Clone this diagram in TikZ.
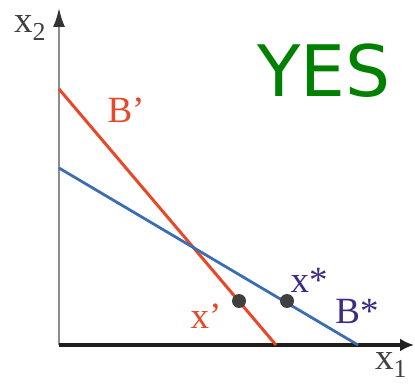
\documentclass[tikz,border=0pt]{standalone}
\usepackage{fontspec}
\setmainfont{Liberation Serif}
\newfontfamily\yesfont{DejaVu Sans}
\usetikzlibrary{arrows.meta}
\definecolor{budgred}{RGB}{232,72,40}
\definecolor{budgblue}{RGB}{62,108,178}
\definecolor{labpurple}{RGB}{62,42,128}
\definecolor{yesgreen}{RGB}{0,128,0}

\begin{document}
\begin{tikzpicture}[x=1pt, y=1pt,
  lab/.style={font=\fontsize{37}{37}\selectfont, inner sep=0pt},
]
  \useasboundingbox (0,0) rectangle (415,383);
  \coordinate (O) at (59,38);
  \coordinate (Y) at (59,375);
  \coordinate (X) at (414,38);
  \coordinate (Rtop) at (59,294);
  \coordinate (Rbot) at (276,38);
  \coordinate (Btop) at (59,215);
  \coordinate (Bbot) at (358,38);
  \coordinate (P) at (239,82);
  \coordinate (S) at (287,82);
  % Achsen
  \draw[gray!90, line width=2pt,
    -{Latex[length=19pt, width=12pt, color=black!80]}] (O) -- (Y);
  \draw[black!88, line width=3.8pt, -{Latex[length=14pt, width=13pt]}] (O) -- (X);
  % Budgetgeraden
  \draw[budgred, line width=3pt] (Rtop) -- (Rbot);
  \draw[budgblue, line width=2.8pt] (Btop) -- (Bbot);
  \foreach \pt in {P,S} \fill[black!75] (\pt) circle (7pt);
  \node[lab, text=black!75] (x2) at (30,355) {x\textsubscript{2}};
  \node[lab, text=black!75] (x1) at (391,18) {x\textsubscript{1}};
  \node[lab, text=budgred] (Bp) at (126,273) {B’};
  \node[lab, text=budgred] (xp) at (206,67) {x’};
  \node[lab, text=labpurple] (xs) at (309,103) {x*};
  \node[lab, text=labpurple] (Bs) at (357,72) {B*};
  \node[font=\yesfont\fontsize{71}{71}\selectfont, text=yesgreen, inner sep=0pt] (yes) at (324,312) {YES};
\end{tikzpicture}
\end{document}
